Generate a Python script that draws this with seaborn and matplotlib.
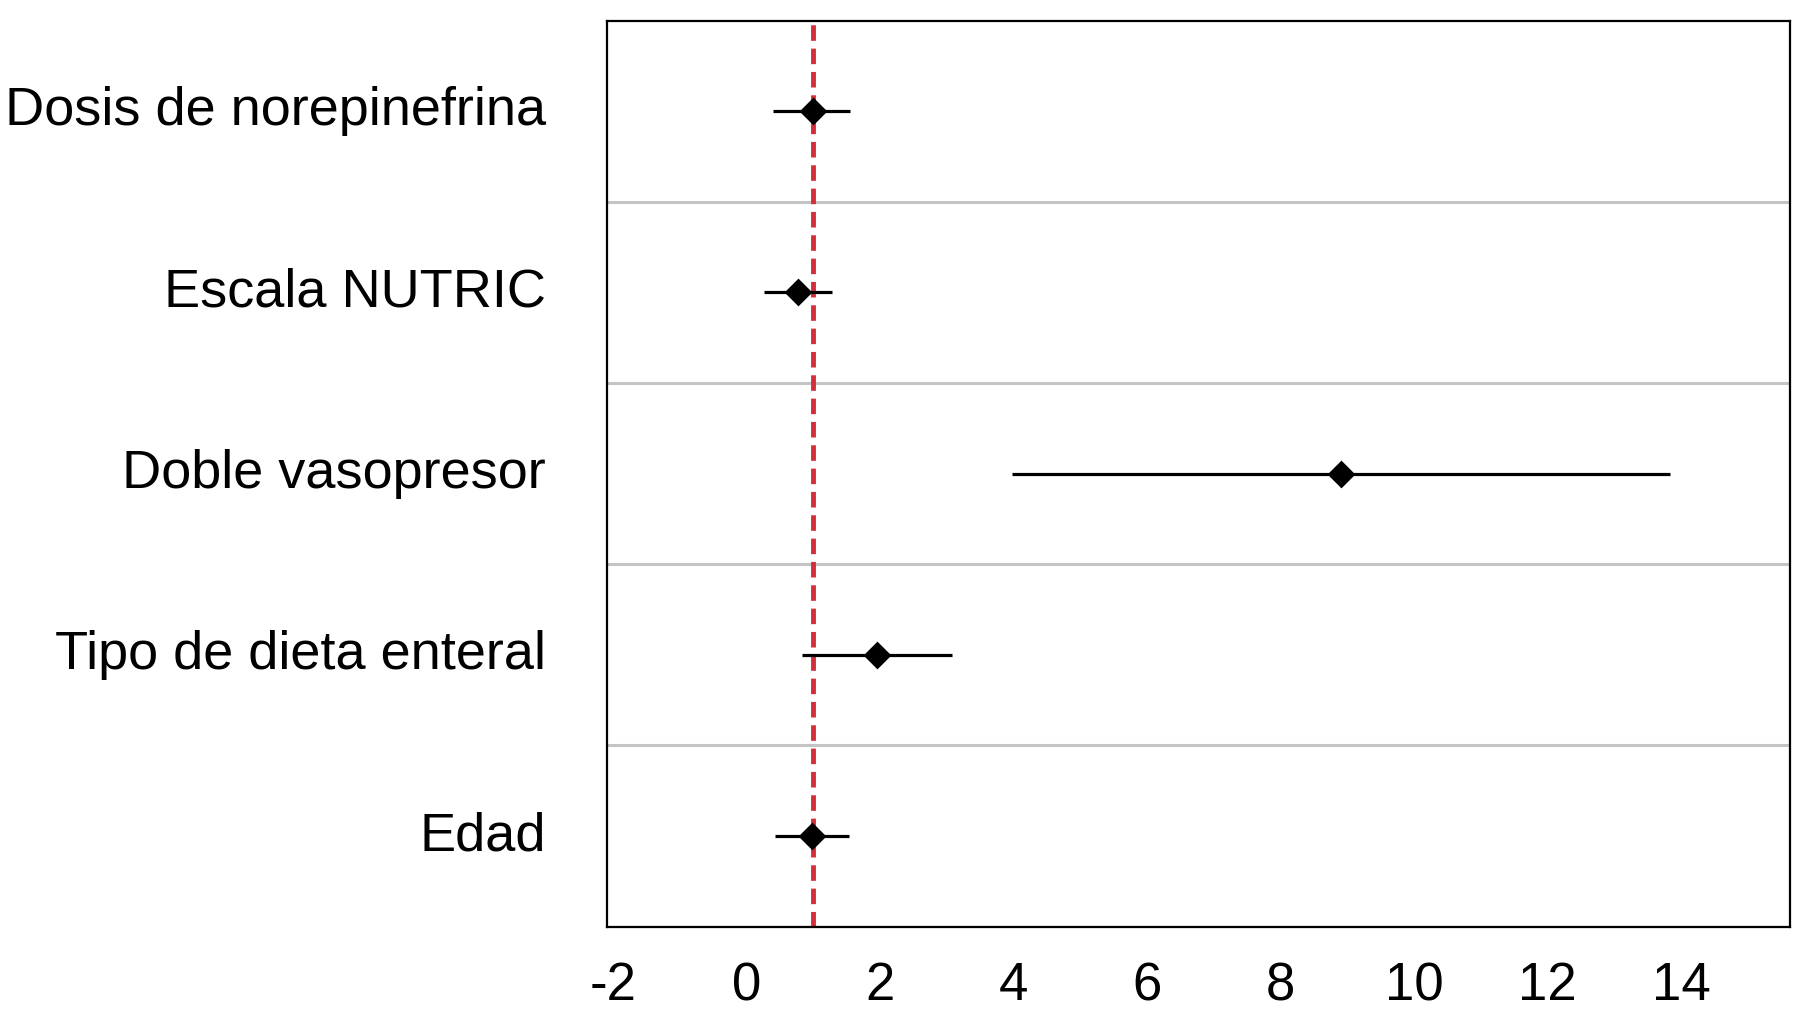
import matplotlib
matplotlib.use("Agg")
import matplotlib.pyplot as plt
import seaborn as sns
import pandas as pd
import numpy as np

# Odds ratios with 95% CI
variables = [
    "Dosis de norepinefrina",
    "Escala NUTRIC",
    "Doble vasopresor",
    "Tipo de dieta enteral",
    "Edad",
]
odds_ratio = [1.0, 0.77, 8.9, 1.96, 0.98]
ci_low = [0.40, 0.26, 3.98, 0.83, 0.43]
ci_high = [1.55, 1.28, 13.83, 3.08, 1.54]
x_ticks = [-2, 0, 2, 4, 6, 8, 10, 12, 14]

df = pd.DataFrame(
    {"variable": variables, "OR": odds_ratio, "low": ci_low, "high": ci_high}
)
df["pos"] = np.arange(len(df))

sns.set_theme(style="white")
plt.rcParams["font.family"] = ["Liberation Sans", "DejaVu Sans"]

fig = plt.figure(figsize=(17.94, 10.24), dpi=100)
ax = fig.add_axes([0.3384, 0.0951, 0.6594, 0.8848])

# separators between rows
for y in np.arange(0.5, len(df) - 0.5, 1.0):
    ax.axhline(y, color="#c4c4c4", lw=2.2, zorder=0)

# reference line at OR = 1
ax.axvline(1, color="#d32f3b", lw=3.5, dashes=(3.2, 1.6), zorder=1)

ax.hlines(df["pos"], df["low"], df["high"], color="black", lw=2.3, zorder=2)
sns.scatterplot(
    data=df, x="OR", y="pos", marker="D", s=200, color="black",
    edgecolor="black", linewidth=0, ax=ax, zorder=3, legend=False,
)

ax.set_xlim(-2.09, 15.63)
ax.set_ylim(len(df) - 0.5, -0.5)
ax.set_xticks(x_ticks)
ax.set_xticklabels([str(t) for t in x_ticks])
ax.set_yticks(df["pos"])
ax.set_yticklabels(df["variable"], va="center")
ax.set_xlabel("")
ax.set_ylabel("")
ax.tick_params(axis="y", length=0, pad=44, labelsize=39, colors="black")
ax.tick_params(axis="x", length=0, pad=25, labelsize=38, colors="black")

for side in ["left", "right", "top", "bottom"]:
    ax.spines[side].set_visible(True)
    ax.spines[side].set_color("black")
    ax.spines[side].set_linewidth(1.6)

fig.savefig("out.png", dpi=100)
